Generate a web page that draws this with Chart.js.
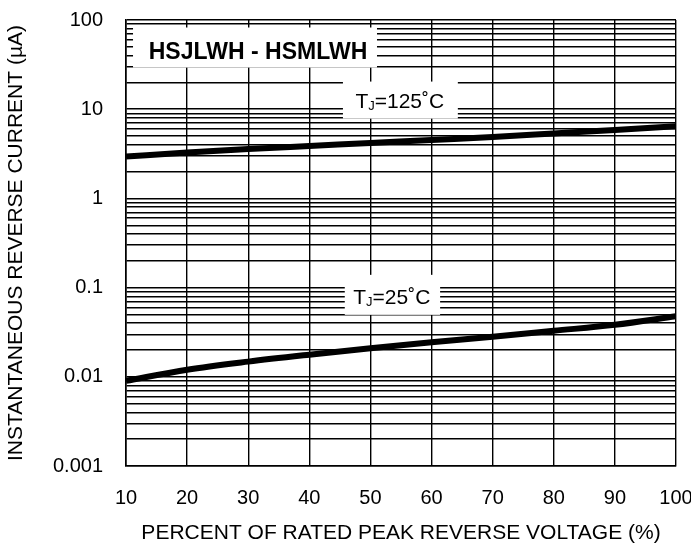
<!DOCTYPE html>
<html><head><meta charset="utf-8">
<script src="https://cdn.jsdelivr.net/npm/chart.js@4.4.0/dist/chart.umd.min.js"></script>
<style>html,body{margin:0;padding:0;background:#fff;}#wrap{width:691px;height:548px;}</style>
</head><body><div id="wrap"><canvas id="c" width="691" height="548"></canvas></div>
<script>
// ---- data ----
const percentVoltage = [10, 20, 30, 40, 50, 60, 70, 80, 90, 100];
const current125 = [2.95, 3.27, 3.58, 3.87, 4.18, 4.52, 4.88, 5.34, 5.85, 6.45];
const current25 = [0.0090, 0.0120, 0.0148, 0.0177, 0.0209, 0.0244, 0.0281, 0.0328, 0.0383, 0.0477];
const xTickValues = [10, 20, 30, 40, 50, 60, 70, 80, 90, 100];
const yDecades = [0.001, 0.01, 0.1, 1, 10, 100];
const yDecadeLabels = ['0.001', '0.01', '0.1', '1', '10', '100'];
const seriesLabels = ['125', '25'];
const chartTitle = 'HSJLWH - HSMLWH';
const xTitle = 'PERCENT OF RATED PEAK REVERSE VOLTAGE (%)';
const yTitle = 'INSTANTANEOUS REVERSE CURRENT (\u00B5A)';

// minor log grid values (2..9 within each decade)
const yGridValues = [];
yDecades.forEach((d, i) => {
  yGridValues.push(d);
  if (i < yDecades.length - 1) for (let m = 2; m <= 9; m++) yGridValues.push(+(d * m).toPrecision(3));
});

const FONT = "'Liberation Sans', Arial, Helvetica, sans-serif";

// annotation boxes (in data coords)
const notes = [
  {type: 'title', text: chartTitle, box: [11.15, 51.07, 82.4, 29.3], at: [31.6, 45.1]},
  {type: 'tj', text: seriesLabels[0], box: [45.5, 64.3, 20.4, 7.85], at: [54.8, 12.5]},
  {type: 'tj', text: seriesLabels[1], box: [45.8, 61.4, 0.139, 0.0495], at: [53.5, 0.0788]}
];

const notesPlugin = {
  id: 'notes',
  beforeDatasetsDraw(chart) {
    const {ctx, scales: {x, y}} = chart;
    ctx.save();
    for (const n of notes) {
      const x0 = x.getPixelForValue(n.box[0]), x1 = x.getPixelForValue(n.box[1]);
      const y0 = y.getPixelForValue(n.box[2]), y1 = y.getPixelForValue(n.box[3]);
      ctx.fillStyle = '#fff';
      ctx.fillRect(x0, y0, x1 - x0, y1 - y0);
      const cx = x.getPixelForValue(n.at[0]), cy = y.getPixelForValue(n.at[1]);
      ctx.fillStyle = '#000';
      ctx.textBaseline = 'alphabetic';
      if (n.type === 'title') {
        ctx.font = 'bold 23px ' + FONT;
        ctx.textAlign = 'center';
        ctx.fillText(n.text, cx, cy + 0.716 * 23 / 2);
      } else {
        const parts = [
          {t: 'T', f: '21px ' + FONT, dy: 0},
          {t: 'J', f: '13px ' + FONT, dy: 2},
          {t: '=' + n.text + '\u02DAC', f: '21px ' + FONT, dy: 0}
        ];
        let w = 0;
        parts.forEach(p => { ctx.font = p.f; p.w = ctx.measureText(p.t).width; w += p.w; });
        let px = cx - w / 2;
        const base = cy + 0.716 * 21 / 2;
        ctx.textAlign = 'left';
        parts.forEach(p => { ctx.font = p.f; ctx.fillText(p.t, px, base + p.dy); px += p.w; });
      }
    }
    ctx.restore();
  }
};

const toPts = arr => percentVoltage.map((v, i) => ({x: v, y: arr[i]}));

new Chart(document.getElementById('c'), {
  type: 'line',
  data: {
    datasets: [
      {label: seriesLabels[0], data: toPts(current125), borderColor: '#000', borderWidth: 6, pointRadius: 0, cubicInterpolationMode: 'monotone', fill: false},
      {label: seriesLabels[1], data: toPts(current25), borderColor: '#000', borderWidth: 6, pointRadius: 0, cubicInterpolationMode: 'monotone', fill: false}
    ]
  },
  options: {
    responsive: false,
    animation: false,
    devicePixelRatio: 1,
    layout: {padding: {top: 20, right: 15, left: 0, bottom: 0}},
    plugins: {legend: {display: false}, tooltip: {enabled: false}, title: {display: false}},
    scales: {
      x: {
        type: 'linear', min: 10, max: 100,
        afterBuildTicks: s => { s.ticks = xTickValues.map(v => ({value: v})); },
        afterFit: s => { s.height = 82; s.paddingLeft = 0; s.paddingRight = 0; },
        grid: {color: '#000', lineWidth: 1.4, drawTicks: false},
        border: {color: '#000', width: 1.6},
        ticks: {color: '#000', padding: 20, maxRotation: 0, autoSkip: false, font: {family: FONT, size: 20}},
        title: {display: true, text: xTitle, color: '#000', font: {family: FONT, size: 21}, padding: {top: 0, bottom: 2}}
      },
      y: {
        type: 'logarithmic', min: 0.001, max: 100,
        afterBuildTicks: s => { s.ticks = yGridValues.map(v => ({value: v})); },
        afterFit: s => { s.width = 126; s.paddingTop = 0; s.paddingBottom = 0; },
        grid: {color: '#000', lineWidth: 1.4, drawTicks: false},
        border: {color: '#000', width: 1.6},
        ticks: {
          color: '#000', padding: 23, autoSkip: false, font: {family: FONT, size: 20},
          callback: v => { const i = yDecades.findIndex(d => Math.abs(d - v) / d < 1e-6); return i >= 0 ? yDecadeLabels[i] : ''; }
        },
        title: {display: true, text: yTitle, color: '#000', font: {family: FONT, size: 21}, padding: {top: 4, bottom: 0}}
      }
    }
  },
  plugins: [notesPlugin]
});
</script></body></html>
